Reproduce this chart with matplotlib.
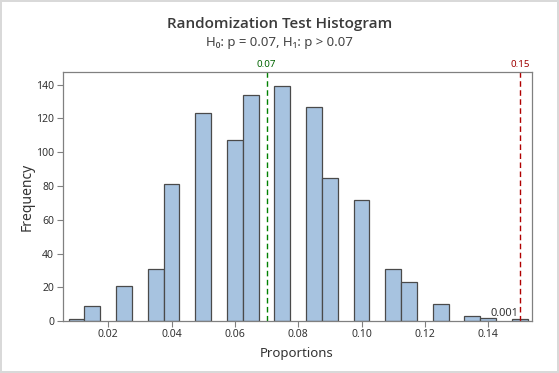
import matplotlib
matplotlib.use("Agg")
import matplotlib.pyplot as plt

# bin centres (width 0.005) and counts
centers = [0.010, 0.015, 0.025, 0.035, 0.040, 0.050, 0.060, 0.065, 0.075,
           0.085, 0.090, 0.100, 0.110, 0.115, 0.125, 0.135, 0.140, 0.150]
counts = [1, 9, 21, 31, 81, 123, 107, 134, 139,
          127, 85, 72, 31, 23, 10, 3, 2, 1]
null_p = 0.07
observed = 0.15
p_value = "0.001"
xticks = [0.02, 0.04, 0.06, 0.08, 0.10, 0.12, 0.14]
yticks = [0, 20, 40, 60, 80, 100, 120, 140]

plt.rcParams['font.family'] = ['Noto Sans', 'DejaVu Sans']
txt = '#333333'

fig = plt.figure(figsize=(5.59, 3.73), dpi=100)
fig.patch.set_edgecolor('#d9d9d9')
fig.patch.set_linewidth(1.5)
ax = fig.add_axes([0.112, 0.139, 0.839, 0.669])

ax.bar(centers, counts, width=0.005, color='#a7c3e0', edgecolor='#4a4a4a',
       linewidth=0.9, align='center')

ax.axvline(null_p, color='#008000', linestyle=(0, (4, 2.5)), linewidth=1)
ax.axvline(observed, color='#b00000', linestyle=(0, (4, 2.5)), linewidth=1)
ax.text(null_p, 149, '0.07', color='#006400', fontsize=7, ha='center', va='bottom')
ax.text(observed, 149, '0.15', color='#a00000', fontsize=7, ha='center', va='bottom')
ax.text(observed - 0.0005, 1.5, p_value, color=txt, fontsize=8, ha='right', va='bottom')

ax.set_xlim(0.0056, 0.1537)
ax.set_ylim(0, 147.7)
ax.set_xticks(xticks)
ax.set_xticklabels(['%.2f' % v for v in xticks])
ax.set_yticks(yticks)
ax.tick_params(labelsize=7.5, colors='#808080', labelcolor=txt, length=4, width=0.8, pad=2)
for s in ax.spines.values():
    s.set_color('#808080')
    s.set_linewidth(0.9)

ax.set_xlabel('Proportions', fontsize=9.5, color=txt, labelpad=5)
ax.set_ylabel('Frequency', fontsize=10, color=txt, labelpad=1)

fig.text(0.5, 0.925, 'Randomization Test Histogram', ha='center', fontsize=11,
         family=['Open Sans', 'DejaVu Sans'], fontweight='semibold', color='#3a3a3a')
fig.text(0.5, 0.878, 'H₀: p = 0.07, H₁: p > 0.07', ha='center', fontsize=9.5, color='#444444')

fig.savefig('out.png', dpi=100)
